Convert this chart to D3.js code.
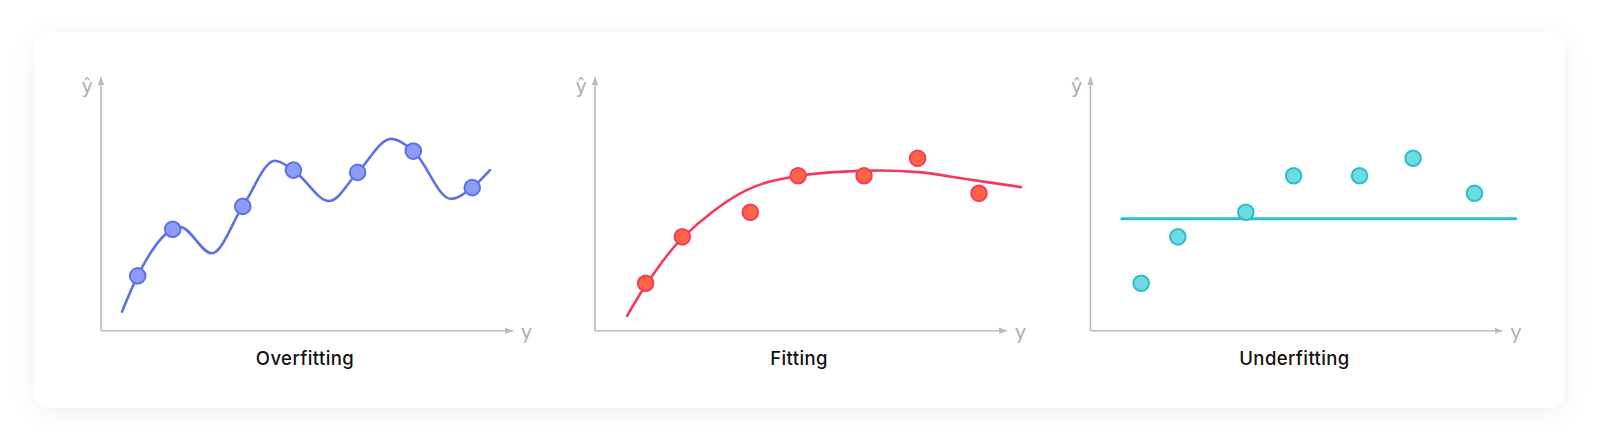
<!DOCTYPE html>
<html>
<head>
<meta charset="utf-8">
<script src="https://cdn.jsdelivr.net/npm/d3@7"></script>
<style>
  html, body { margin: 0; padding: 0; background: #ffffff; }
  svg { display: block; }
</style>
</head>
<body>
<svg id="chart" width="1600" height="447"></svg>
<script>
// ---------- data ----------
const titles = ["Overfitting", "Fitting", "Underfitting"];
const xAxisLabel = "y";
const yAxisLabel = "ŷ";

// Overfitting panel: observed points
const overPointX = [8.9, 17.4, 34.4, 46.7, 62.3, 75.8, 90.1];
const overPointY = [21.6, 40.0, 49.0, 63.3, 62.4, 70.8, 56.4];
// Overfitting curve knots
const overCurveX = [5.1, 8.9, 17.4, 19.2, 26.9, 34.4, 42.2, 46.7, 55.4, 62.3, 70.4, 75.8, 84.9, 90.1, 94.4];
const overCurveY = [7.5, 21.6, 40.0, 40.9, 30.5, 49.0, 67.0, 63.3, 51.1, 62.4, 75.6, 70.8, 52.0, 56.4, 63.3];

// Fitting / Underfitting panels: observed points
const pointX = [12.3, 21.2, 37.7, 49.3, 65.3, 78.3, 93.2];
const pointY = [18.7, 37.0, 46.7, 61.1, 61.1, 68.0, 54.2];
// Fitting curve knots
const fitCurveX = [7.8, 12.6, 21.4, 36.9, 49.7, 67.0, 78.5, 90.0, 103.4];
const fitCurveY = [5.8, 18.6, 36.9, 55.5, 61.1, 63.1, 62.5, 59.8, 56.6];
// Underfitting flat line
const underLineX = [7.6, 103.2];
const underLineY = [44.1, 44.1];

// ---------- layout ----------
const svg = d3.select("#chart");
const W = 1600, H = 447;
const axisColor = "#b6bcc5";
const labelColor = "#a9afb9";
const panelOrigins = [101, 595, 1090.5];
const axisLen = 412;
const yBottom = 330.7, yTop = 77;

const defs = svg.append("defs");
const f = defs.append("filter").attr("id", "shadow")
  .attr("x", "-10%").attr("y", "-30%").attr("width", "120%").attr("height", "160%");
f.append("feDropShadow").attr("dx", 0).attr("dy", 4).attr("stdDeviation", 12)
  .attr("flood-color", "#000").attr("flood-opacity", 0.06);

defs.append("marker").attr("id", "arrow")
  .attr("viewBox", "0 0 10 10").attr("refX", 10).attr("refY", 5)
  .attr("markerUnits", "userSpaceOnUse")
  .attr("markerWidth", 8).attr("markerHeight", 8).attr("orient", "auto")
  .append("path").attr("d", "M0,1 L10,5 L0,9 Z").attr("fill", axisColor);

svg.append("rect").attr("width", W).attr("height", H).attr("fill", "#ffffff");
svg.append("rect")
  .attr("x", 34).attr("y", 32).attr("width", 1531).attr("height", 376)
  .attr("rx", 16).attr("fill", "#ffffff").attr("filter", "url(#shadow)");

const panels = [
  { title: titles[0], px: overPointX, py: overPointY, cx: overCurveX, cy: overCurveY,
    curve: d3.curveMonotoneX, line: "#5f70e2", fill: "#8c9cf8", stroke: "#5f70e2", lw: 2.6 },
  { title: titles[1], px: pointX, py: pointY, cx: fitCurveX, cy: fitCurveY,
    curve: d3.curveCatmullRom.alpha(0.5), line: "#f5395d", fill: "#ff6446", stroke: "#f33d5c", lw: 2.6 },
  { title: titles[2], px: pointX, py: pointY, cx: underLineX, cy: underLineY,
    curve: d3.curveLinear, line: "#2fbfcc", fill: "#6ddbe2", stroke: "#30bccb", lw: 3 }
];

panels.forEach((p, i) => {
  const x0 = panelOrigins[i];
  const x = d3.scaleLinear().domain([0, 100]).range([x0, x0 + axisLen]);
  const y = d3.scaleLinear().domain([0, 100]).range([yBottom, yTop]);
  const g = svg.append("g");

  // axes
  g.append("line")
    .attr("x1", x(0)).attr("y1", y(0)).attr("x2", x(100)).attr("y2", y(0))
    .attr("stroke", axisColor).attr("stroke-width", 1.6).attr("marker-end", "url(#arrow)");
  g.append("line")
    .attr("x1", x(0)).attr("y1", y(0)).attr("x2", x(0)).attr("y2", y(100))
    .attr("stroke", axisColor).attr("stroke-width", 1.6).attr("marker-end", "url(#arrow)");

  g.append("text").attr("x", x(100) + 8).attr("y", y(0) + 8)
    .attr("font-family", "Lato, 'Open Sans', sans-serif").attr("font-size", 21)
    .attr("fill", labelColor).text(xAxisLabel);
  g.append("text").attr("x", x(0) - 14).attr("y", y(100) + 16)
    .attr("text-anchor", "middle")
    .attr("font-family", "'DejaVu Sans', Lato, sans-serif").attr("font-size", 19)
    .attr("fill", labelColor).text(yAxisLabel);

  // curve
  const knots = p.cx.map((v, k) => [v, p.cy[k]]);
  g.append("path").datum(knots)
    .attr("d", d3.line().x(d => x(d[0])).y(d => y(d[1])).curve(p.curve))
    .attr("fill", "none").attr("stroke", p.line).attr("stroke-width", p.lw)
    .attr("stroke-linecap", "round");

  // points
  const pts = p.px.map((v, k) => [v, p.py[k]]);
  g.selectAll("circle.pt").data(pts).join("circle").attr("class", "pt")
    .attr("cx", d => x(d[0])).attr("cy", d => y(d[1])).attr("r", 7.8)
    .attr("fill", p.fill).attr("stroke", p.stroke).attr("stroke-width", 2);

  // title
  g.append("text").attr("x", x(0) + 204).attr("y", 365)
    .attr("text-anchor", "middle")
    .attr("font-family", "Inter, 'Noto Sans', sans-serif").attr("font-weight", 500)
    .attr("font-size", 18.5).attr("letter-spacing", 0.4)
    .attr("fill", "#111111").text(p.title);
});
</script>
</body>
</html>
